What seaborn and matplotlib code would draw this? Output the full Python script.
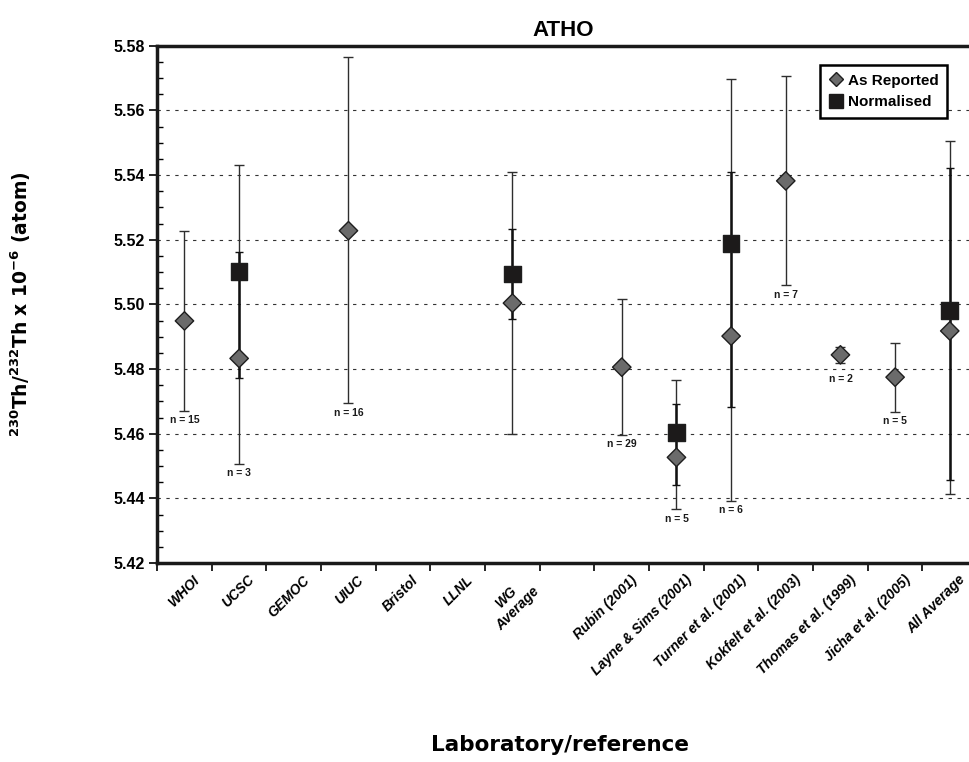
import numpy as np
import pandas as pd
import seaborn as sns
import matplotlib.pyplot as plt
import matplotlib.transforms as mtransforms
from matplotlib.lines import Line2D
from matplotlib.ticker import MultipleLocator

sns.set_style("ticks")
plt.rcParams['font.family'] = ['Liberation Sans', 'DejaVu Sans']
plt.rcParams['text.color'] = 'black'
plt.rcParams['xtick.color'] = 'black'
plt.rcParams['ytick.color'] = 'black'
plt.rcParams['axes.labelcolor'] = 'black'
plt.rcParams['axes.edgecolor'] = '#1a1a1a'

# categories along the x axis ("" = empty slot between WG Average and Rubin)
labels = ["WHOI", "UCSC", "GEMOC", "UIUC", "Bristol", "LLNL", "WG\nAverage", "",
          "Rubin (2001)", "Layne & Sims (2001)", "Turner et al. (2001)",
          "Kokfelt et al. (2003)", "Thomas et al. (1999)", "Jicha et al. (2005)",
          "All Average"]

# as reported values
rep_names = ["WHOI", "UCSC", "UIUC", "WG\nAverage", "Rubin (2001)", "Layne & Sims (2001)",
             "Turner et al. (2001)", "Kokfelt et al. (2003)", "Thomas et al. (1999)",
             "Jicha et al. (2005)", "All Average"]
rep_val = [5.4949, 5.4833, 5.5228, 5.5004, 5.4806, 5.4527, 5.4902, 5.5382, 5.4844, 5.4775, 5.4918]
rep_lo = [5.4671, 5.4506, 5.4694, 5.4599, 5.4597, 5.4366, 5.4393, 5.5059, 5.4818, 5.4668, 5.4413]
rep_hi = [5.5227, 5.5432, 5.5765, 5.5409, 5.5016, 5.4767, 5.5697, 5.5705, 5.4869, 5.4882, 5.5504]
rep_n = [15, 3, 16, None, 29, 5, 6, 7, 2, 5, None]

# normalised values
norm_names = ["UCSC", "WG\nAverage", "Layne & Sims (2001)", "Turner et al. (2001)", "All Average"]
norm_val = [5.5102, 5.5094, 5.4605, 5.5189, 5.4981]
norm_lo = [5.4772, 5.4954, 5.4443, 5.4684, 5.4457]
norm_hi = [5.5162, 5.5233, 5.4692, 5.5410, 5.5423]

pos = {name: i for i, name in enumerate(labels)}

rep = pd.DataFrame({"lab": rep_names, "value": rep_val, "lo": rep_lo, "hi": rep_hi,
                    "series": "As Reported"})
rep["x"] = rep["lab"].map(pos)
norm = pd.DataFrame({"lab": norm_names, "value": norm_val, "lo": norm_lo, "hi": norm_hi,
                     "series": "Normalised"})
norm["x"] = norm["lab"].map(pos)
df = pd.concat([rep, norm], ignore_index=True)

fig = plt.figure(figsize=(9.7, 7.62), dpi=100)
ax = fig.add_axes([0.162, 0.261, 0.838, 0.679])

# error bars (reported thin grey, normalised thick black)
ax.errorbar(rep["x"], rep["value"], yerr=[rep["value"] - rep["lo"], rep["hi"] - rep["value"]],
            fmt="none", ecolor="#2e2e2e", elinewidth=1.0, capsize=3.8, capthick=1.0, zorder=2)
ax.errorbar(norm["x"], norm["value"], yerr=[norm["value"] - norm["lo"], norm["hi"] - norm["value"]],
            fmt="none", ecolor="#111111", elinewidth=1.8, capsize=3.0, capthick=1.0, zorder=2.5)

sns.scatterplot(data=df, x="x", y="value", hue="series", style="series",
                markers={"As Reported": "D", "Normalised": "s"},
                palette={"As Reported": "#6b6b6b", "Normalised": "#1c1a1a"},
                size="series", sizes={"As Reported": 88, "Normalised": 145},
                edgecolor="#1e1e1e", linewidth=1.0, legend=False, zorder=4, ax=ax)

# n labels under the reported error bars (or under the marker if the bar is short)
for i, r in rep.iterrows():
    n = rep_n[i]
    if n is None:
        continue
    ybot = min(r["lo"], r["value"] - 0.0047)
    ax.annotate(f"n = {n}", (r["x"], ybot), xytext=(0, -3), textcoords="offset points",
                ha="center", va="top", fontsize=7.5, fontweight="bold", color="#1a1a1a")

ax.set_xlim(-0.5, 14.37)
ax.set_ylim(5.42, 5.58)
ax.yaxis.set_major_locator(MultipleLocator(0.02))
ax.yaxis.set_minor_locator(MultipleLocator(0.005))
ax.set_yticklabels([f"{v:.2f}" for v in ax.get_yticks()], fontweight="bold", fontsize=11.5)
ax.tick_params(axis="y", which="major", length=6, width=1.2, direction="out", pad=3)
ax.tick_params(axis="y", which="minor", length=4, width=1.0, direction="in")

# boundary ticks (no labels) and category labels at centres
ax.set_xticks(np.arange(len(labels)) - 0.5)
ax.set_xticklabels([])
ax.tick_params(axis="x", which="major", length=6, width=1.2, direction="out")
ax.set_xticks(np.arange(len(labels)), minor=True)
ax.set_xticklabels(labels, minor=True, rotation=45, ha="right", va="top",
                   rotation_mode="anchor", fontsize=10, fontweight="bold", fontstyle="italic")
ax.tick_params(axis="x", which="minor", length=0, pad=7)
shift = mtransforms.ScaledTranslation(6 / 72, 0, fig.dpi_scale_trans)
for t in ax.get_xticklabels(minor=True):
    t.set_transform(t.get_transform() + shift)
    t.set_multialignment("center")

for y in [5.44, 5.46, 5.48, 5.50, 5.52, 5.54, 5.56]:
    ax.axhline(y, color="#333333", lw=0.8, linestyle=(0, (3, 5)), zorder=1)

for s in ["left", "bottom", "top"]:
    ax.spines[s].set_linewidth(2.5)
ax.spines["right"].set_visible(False)

ax.set_title("ATHO", fontsize=16, fontweight="bold", pad=7)
ax.set_ylabel(r"$\mathbf{^{230}}$Th/$\mathbf{^{232}}$Th x 10$\mathbf{^{-6}}$ (atom)",
              fontsize=13.5, fontweight="bold", family="DejaVu Sans")
ax.yaxis.set_label_coords(-0.153, 0.5)
ax.set_xlabel("Laboratory/reference", fontsize=15.5, fontweight="bold", family="DejaVu Sans")
ax.xaxis.set_label_coords(0.496, -0.333)

handles = [Line2D([], [], marker="D", ls="none", color="#6b6b6b", markeredgecolor="#1e1e1e",
                  markersize=7, label="As Reported"),
           Line2D([], [], marker="s", ls="none", color="#1c1a1a", markersize=9.5,
                  label="Normalised")]
leg = ax.legend(handles=handles, loc="upper right", bbox_to_anchor=(0.9815, 0.977),
                fancybox=False, framealpha=1, edgecolor="black", handletextpad=0.3,
                borderpad=0.55, labelspacing=0.5, handlelength=1.0,
                prop={"weight": "bold", "size": 11})
leg.get_frame().set_linewidth(1.8)

fig.savefig("out.png", dpi=100)
